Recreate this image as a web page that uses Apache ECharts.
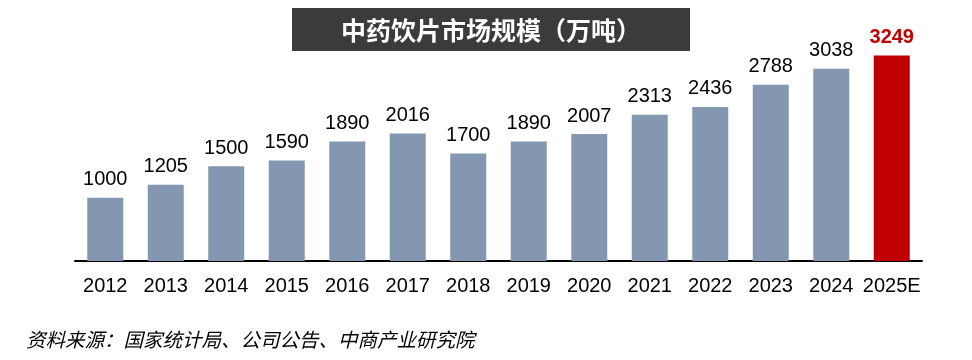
<!DOCTYPE html>
<html><head><meta charset="utf-8">
<script src="https://cdn.jsdelivr.net/npm/echarts@6/dist/echarts.min.js"></script>
<style>html,body{margin:0;padding:0;background:#fff}#c{width:972px;height:360px}</style>
</head><body><div id="c"></div>
<script>
const categories = ['2012','2013','2014','2015','2016','2017','2018','2019','2020','2021','2022','2023','2024','2025E'];
const values = [1000,1205,1500,1590,1890,2016,1700,1890,2007,2313,2436,2788,3038,3249];
const titleText = '中药饮片市场规模（万吨）';
const sourceText = '资料来源：国家统计局、公司公告、中商产业研究院';

const chart = echarts.init(document.getElementById('c'));
const data = values.map((v, i) => {
  const last = i === values.length - 1;
  return {
    value: v,
    itemStyle: { color: last ? '#c00000' : '#8497b0' },
    label: last ? { color: '#c00000', fontWeight: 'bold' } : {}
  };
});
chart.setOption({
  animation: false,
  grid: { left: 75, right: 50, top: 8, bottom: 99 },
  xAxis: {
    type: 'category', data: categories,
    axisLine: { lineStyle: { color: '#000', width: 2 } },
    axisTick: { show: false },
    axisLabel: { interval: 0, color: '#000', fontSize: 20, fontFamily: 'Liberation Sans, Arial', margin: 15 }
  },
  yAxis: { type: 'value', min: 0, max: 4000, show: false, splitLine: { show: false } },
  series: [{
    type: 'bar', data: data, barWidth: 36,
    label: { show: true, position: 'top', distance: 8, color: '#000', fontSize: 20, fontFamily: 'Liberation Sans, Arial' }
  }],
  graphic: [
    { type: 'rect', shape: { x: 292, y: 8, width: 398, height: 43 }, style: { fill: '#3b3b3b' } },
    { type: 'text', x: 491, y: 30, style: { text: titleText, fill: '#fff', fontSize: 25, fontWeight: 'bold', fontFamily: 'Noto Sans CJK SC', align: 'center', verticalAlign: 'middle' } },
    { type: 'text', x: 26, y: 340, style: { text: sourceText, fill: '#000', fontSize: 19.5, fontStyle: 'italic', fontFamily: 'Noto Sans CJK SC', verticalAlign: 'middle' } }
  ]
});
</script></body></html>
